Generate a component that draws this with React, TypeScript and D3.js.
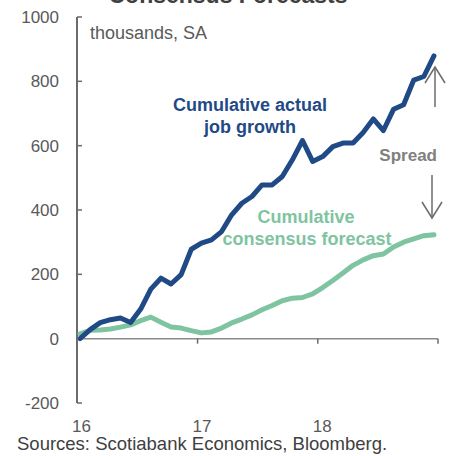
import React from "react";
import * as d3 from "d3";

const actual = [0, 28, 50, 59, 64, 50, 92, 154, 188, 170, 199, 278, 297, 307, 333, 385, 421, 442, 478, 478, 504, 556, 616, 551, 566, 597, 608, 608, 641, 683, 647, 713, 727, 804, 815, 879];
const consensus = [15, 26, 27, 30, 36, 43, 56, 67, 51, 36, 33, 25, 18, 21, 33, 49, 61, 74, 90, 103, 118, 126, 128, 139, 159, 181, 204, 228, 245, 258, 263, 285, 300, 310, 320, 323];
const yTicks = [-200, 0, 200, 400, 600, 800, 1000];
const yearTicks = [new Date(2016, 0, 1), new Date(2017, 0, 1), new Date(2018, 0, 1), new Date(2019, 0, 1)];
const yearLabels = ["16", "17", "18"];

const W = 450, H = 456;
const FONT = "'Liberation Sans', Arial, sans-serif";

export default function App() {
  const y = d3.scaleLinear().domain([-200, 1000]).range([403, 17]);
  const xTime = d3.scaleTime().domain([yearTicks[0], yearTicks[3]]).range([77, 438]);
  const xIdx = d3.scaleLinear().domain([-0.3, 35.4]).range([77, 438]);
  const line = d3.line<number>().x((_, i) => xIdx(i)).y((d) => y(d));
  const axisX0 = 77;

  return (
    <svg width={W} height={H} style={{ position: "absolute", left: 0, top: 0 }} fontFamily={FONT}>
      <rect width={W} height={H} fill="#fff" />
      <text x={228} y={3} textAnchor="middle" fontSize={23} fontWeight="bold" fill="#404040">Consensus Forecasts</text>
      {/* y axis */}
      <line x1={axisX0} x2={axisX0} y1={y(1000)} y2={y(-200)} stroke="#6b6b6b" strokeWidth={2} />
      {yTicks.map((t) => (
        <g key={t}>
          <line x1={axisX0} x2={axisX0 + 5} y1={y(t)} y2={y(t)} stroke="#6b6b6b" strokeWidth={1.5} />
          <text x={59} y={y(t)} dy="0.35em" textAnchor="end" fontSize={17} fill="#595959">{t}</text>
        </g>
      ))}
      {/* x axis */}
      <line x1={axisX0} x2={438} y1={y(0)} y2={y(0)} stroke="#8a8a8a" strokeWidth={1.5} />
      {yearTicks.slice(1).map((d, i) => (
        <line key={i} x1={xTime(d)} x2={xTime(d)} y1={y(0)} y2={y(0) + 5} stroke="#6b6b6b" strokeWidth={1.5} />
      ))}
      {yearLabels.map((l, i) => (
        <text key={l} x={xTime(yearTicks[i]) + 4.5} y={432} textAnchor="middle" fontSize={17} fill="#595959">{l}</text>
      ))}
      <text x={90} y={39} fontSize={18} fill="#595959">thousands, SA</text>
      {/* lines */}
      <path d={line(consensus) || ""} fill="none" stroke="#7fc4a0" strokeWidth={5} strokeLinejoin="round" strokeLinecap="round" />
      <path d={line(actual) || ""} fill="none" stroke="#1f4a86" strokeWidth={5} strokeLinejoin="round" strokeLinecap="round" />
      {/* labels */}
      <text x={250} y={111} textAnchor="middle" fontSize={18} fontWeight="bold" fill="#1f4a86">Cumulative actual</text>
      <text x={250} y={133} textAnchor="middle" fontSize={18} fontWeight="bold" fill="#1f4a86">job growth</text>
      <text x={306} y={223} textAnchor="middle" fontSize={18} fontWeight="bold" fill="#7fc4a0">Cumulative</text>
      <text x={307} y={245} textAnchor="middle" fontSize={18} fontWeight="bold" fill="#7fc4a0">consensus forecast</text>
      <text x={437} y={161} textAnchor="end" fontSize={17} fontWeight="bold" fill="#808080">Spread</text>
      {/* arrows */}
      <g stroke="#6b6b6b" strokeWidth={1.5} fill="none">
        <line x1={435} x2={435} y1={107} y2={67} />
        <polyline points="425,83 435,67 445,83" />
        <line x1={432} x2={432} y1={175} y2={218} />
        <polyline points="422,202 432,218 442,202" />
      </g>
      <text x={17} y={450} fontSize={18.5} fill="#404040">Sources: Scotiabank Economics, Bloomberg.</text>
    </svg>
  );
}
